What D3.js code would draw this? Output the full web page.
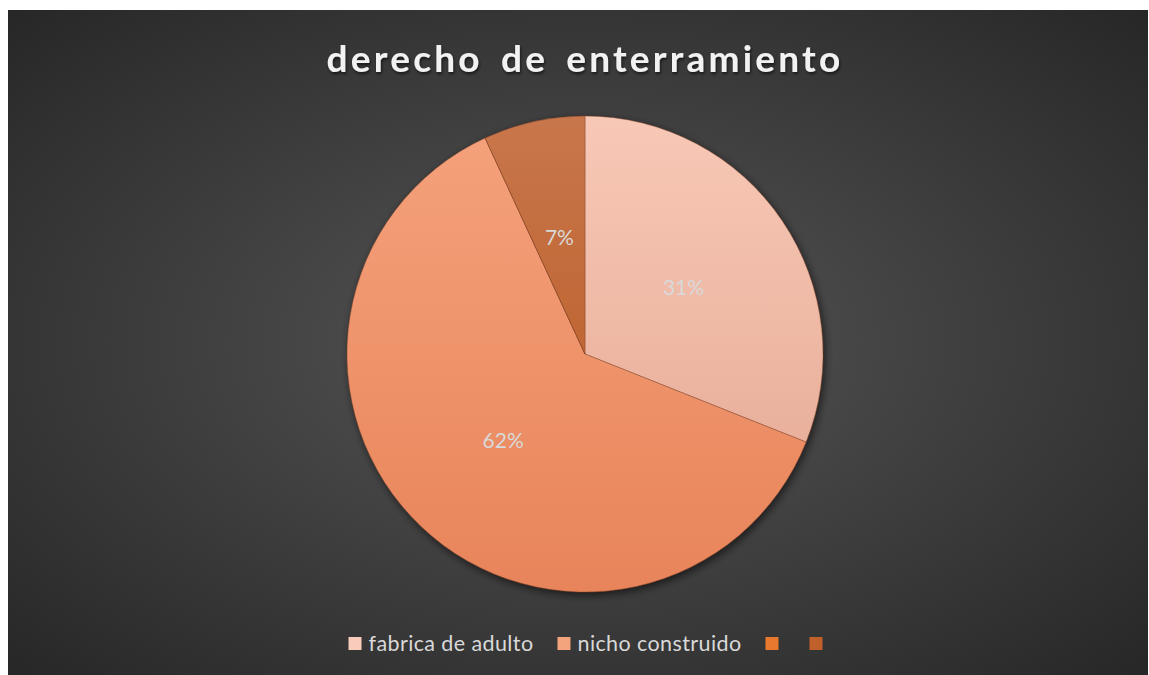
<!DOCTYPE html>
<html>
<head>
  <meta charset="utf-8">
  <title>derecho de enterramiento</title>
  <script src="https://d3js.org/d3.v7.min.js"></script>
  <style>
    body { margin: 0; background: #fff; }
  </style>
</head>
<body>
  <script>
    const categories = ['fabrica de adulto', 'nicho construido', '', '']
    const values = [9, 18, 0, 2]
    const colorsTop = ['#F8C8B6', '#F5A27C', '#EA7A30', '#C8764C']
    const colorsBottom = ['#E2A690', '#E8845A', '#D8661E', '#B8561A']
    const legendColors = ['#F8CBBA', '#F4A47C', '#E8782D', '#C0602B']

    const width = 1149, height = 675
    const cx = 585, cy = 354, r = 238

    const svg = d3.select('body').append('svg')
      .attr('width', width)
      .attr('height', height)

    const defs = svg.append('defs')

    const bg = defs.append('radialGradient')
      .attr('id', 'bg')
      .attr('cx', '50%').attr('cy', '50%').attr('r', '72%')
    bg.append('stop').attr('offset', '0%').attr('stop-color', '#565656')
    bg.append('stop').attr('offset', '100%').attr('stop-color', '#262626')

    // vertical gradient per slice, in the pie group's own coordinates
    categories.forEach((c, i) => {
      const g = defs.append('linearGradient')
        .attr('id', 'slice' + i)
        .attr('gradientUnits', 'userSpaceOnUse')
        .attr('x1', 0).attr('y1', -r).attr('x2', 0).attr('y2', r)
      g.append('stop').attr('offset', '0%').attr('stop-color', colorsTop[i])
      g.append('stop').attr('offset', '100%').attr('stop-color', colorsBottom[i])
    })

    const shadow = defs.append('filter').attr('id', 'shadow')
      .attr('x', '-20%').attr('y', '-20%').attr('width', '140%').attr('height', '140%')
    shadow.append('feDropShadow')
      .attr('dx', 2).attr('dy', 3).attr('stdDeviation', 4)
      .attr('flood-color', '#000').attr('flood-opacity', 0.6)

    const tshadow = defs.append('filter').attr('id', 'tshadow')
    tshadow.append('feDropShadow')
      .attr('dx', 1).attr('dy', 2).attr('stdDeviation', 1.5)
      .attr('flood-color', '#000').attr('flood-opacity', 0.6)

    svg.append('rect')
      .attr('x', 8).attr('y', 10)
      .attr('width', 1140).attr('height', 665)
      .attr('fill', 'url(#bg)')

    svg.append('text')
      .attr('x', cx).attr('y', 72)
      .attr('text-anchor', 'middle')
      .attr('font-family', 'Lato, "Open Sans", sans-serif')
      .attr('font-weight', 'bold')
      .attr('font-size', 37)
      .attr('letter-spacing', 3.2)
      .attr('word-spacing', 6)
      .attr('fill', '#F2F2F2')
      .attr('filter', 'url(#tshadow)')
      .text('derecho de enterramiento')

    const total = d3.sum(values)
    const pie = d3.pie().sort(null).value(d => d)
    const arc = d3.arc().innerRadius(0).outerRadius(r)
    const arcs = pie(values)

    const g = svg.append('g').attr('transform', `translate(${cx},${cy})`)

    g.append('g').attr('filter', 'url(#shadow)')
      .selectAll('path')
      .data(arcs)
      .enter()
      .append('path')
      .attr('d', arc)
      .attr('fill', (d, i) => 'url(#slice' + i + ')')
      .attr('stroke', 'rgba(120,60,30,0.45)')
      .attr('stroke-width', 0.8)

    g.selectAll('text')
      .data(arcs.filter(d => d.value > 0))
      .enter()
      .append('text')
      .attr('transform', d => `translate(${arc.centroid(d)})`)
      .attr('text-anchor', 'middle')
      .attr('dy', '0.35em')
      .attr('font-family', 'Lato, "Open Sans", sans-serif')
      .attr('font-size', 21)
      .attr('fill', '#D9D9D9')
      .text(d => Math.round(d.value / total * 100) + '%')

    // legend
    const legend = svg.append('g')
    const items = legend.selectAll('g')
      .data(categories)
      .enter()
      .append('g')
    items.append('rect')
      .attr('width', 13).attr('height', 13)
      .attr('y', -14)
      .attr('fill', (d, i) => legendColors[i])
    items.append('text')
      .attr('x', 20)
      .attr('font-family', 'Lato, "Open Sans", sans-serif')
      .attr('font-size', 21.5)
      .attr('letter-spacing', 0.4)
      .attr('fill', '#D9D9D9')
      .text(d => d)

    let x = 0
    const gap = 24
    items.each(function () {
      const t = d3.select(this).select('text').node()
      const w = t.textContent ? 20 + t.getComputedTextLength() : 20
      d3.select(this).attr('transform', `translate(${x},0)`)
      x += w + gap
    })
    x -= gap
    legend.attr('transform', `translate(${cx - x / 2 + 4},${651})`)
  </script>
</body>
</html>
